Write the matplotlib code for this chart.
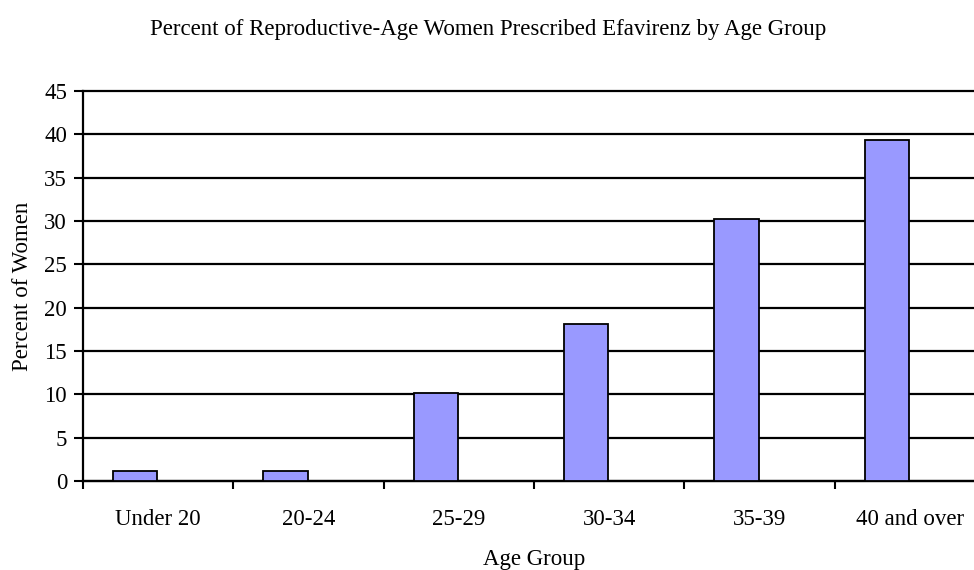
import matplotlib.pyplot as plt
import numpy as np

# age groups and share of women prescribed efavirenz (%)
age_groups = ['Under 20', '20-24', '25-29', '30-34', '35-39', '40 and over']
percent_women = [1.1, 1.1, 10.1, 18.1, 30.2, 39.4]
y_ticks = list(range(0, 50, 5))

plt.rcParams['font.family'] = ['Liberation Serif', 'DejaVu Serif']
fs = 16.5

fig = plt.figure(figsize=(9.74, 5.7), dpi=100)
# plot area runs a little past the right edge
ax = fig.add_axes([83 / 974, 89 / 570, 902 / 974, 390 / 570])

x = np.arange(len(age_groups))
# clustered layout: first of two series, the second one empty
ax.bar(x - 0.153, percent_women, width=0.293, color='#9999FF',
       edgecolor='black', linewidth=1.3, zorder=3)

ax.set_xlim(-0.5, len(age_groups) - 0.5)
ax.set_ylim(0, 45)
ax.set_yticks(y_ticks)
ax.yaxis.grid(True, color='black', linewidth=1.6, zorder=0)
ax.set_axisbelow(True)
for line in ax.get_ygridlines():
    line.set_clip_on(False)

ax.set_xticks(x)
ax.set_xticklabels(age_groups)
ax.set_xticks(np.arange(len(age_groups)) - 0.5, minor=True)
ax.tick_params(axis='x', which='major', length=0, pad=20, labelsize=fs)
ax.tick_params(axis='x', which='minor', length=6, width=1.5, direction='out')
ax.tick_params(axis='y', length=6.5, width=1.5, direction='out', pad=5, labelsize=fs)

for side in ['top', 'right']:
    ax.spines[side].set_visible(False)
for side in ['left', 'bottom']:
    ax.spines[side].set_linewidth(1.6)

ax.set_xlabel('Age Group', fontsize=fs, labelpad=14)
ax.set_ylabel('Percent of Women', fontsize=fs, labelpad=8)
fig.text(0.501, 1 - 30 / 570, 'Percent of Reproductive-Age Women Prescribed Efavirenz by Age Group',
         ha='center', va='center', fontsize=fs)

fig.savefig('out.png', dpi=100)
